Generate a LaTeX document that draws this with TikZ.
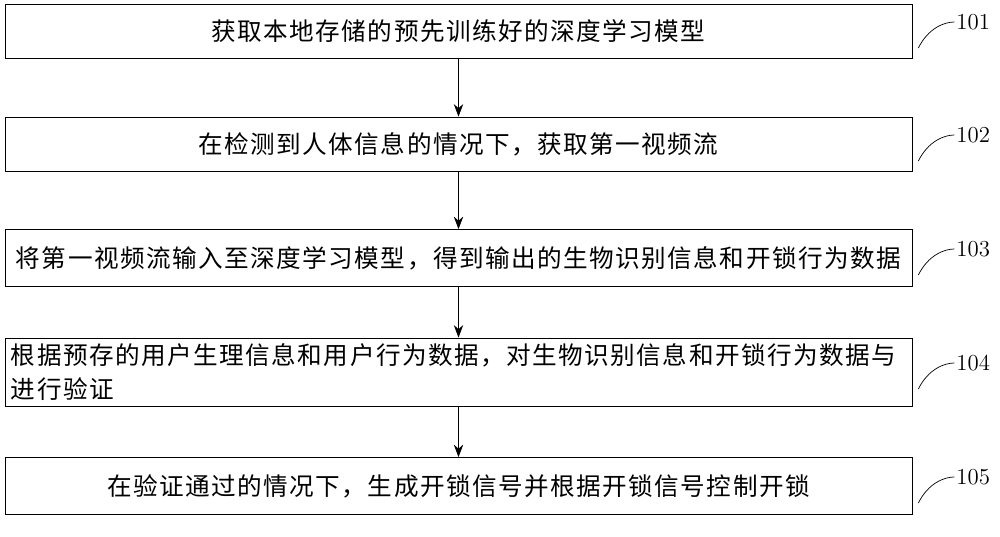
\documentclass[tikz,border=0pt]{standalone}
\usepackage{fontspec}
\newfontfamily\cjk[LetterSpace=6]{Noto Sans CJK SC}
\usetikzlibrary{arrows.meta}
\tikzset{stepbox/.style={draw,minimum width=18.14cm,text width=17.9cm,align=center,font=\cjk\fontsize{14}{19}\selectfont},
  tick/.style={thin}}
\newcommand{\steptag}[2]{%
  \draw[tick] ([shift={(0.12,-0.34)}]#1.east) .. controls +(0.2,0.4) and +(-0.2,0) .. ++(0.72,0.52) coordinate (#1t);
  \node[anchor=west,inner sep=1pt,font=\fontsize{13}{14}\selectfont] at (#1t) {#2};}
\begin{document}
\begin{tikzpicture}
  \useasboundingbox (0,0) rectangle (20,10.74);

  \node[stepbox,minimum height=1.08cm] (s1) at (9.17,10.12) {获取本地存储的预先训练好的深度学习模型};
  \node[stepbox,minimum height=1.08cm] (s2) at (9.17,7.86) {在检测到人体信息的情况下，获取第一视频流};
  \node[stepbox,minimum height=1.14cm] (s3) at (9.17,5.58) {将第一视频流输入至深度学习模型，得到输出的生物识别信息和开锁行为数据};
  \node[stepbox,minimum height=1.18cm,align=left] (s4) at (9.17,3.30) {根据预存的用户生理信息和用户行为数据，对生物识别信息和开锁行为数据与\\进行验证};
  \node[stepbox,minimum height=1.14cm] (s5) at (9.17,1.02) {在验证通过的情况下，生成开锁信号并根据开锁信号控制开锁};

  \foreach \a/\b in {s1/s2,s2/s3,s3/s4,s4/s5}
    \draw[-{Stealth[length=2.5mm]}] (\a) -- (\b);

  \steptag{s1}{101}
  \steptag{s2}{102}
  \steptag{s3}{103}
  \steptag{s4}{104}
  \steptag{s5}{105}
\end{tikzpicture}
\end{document}
